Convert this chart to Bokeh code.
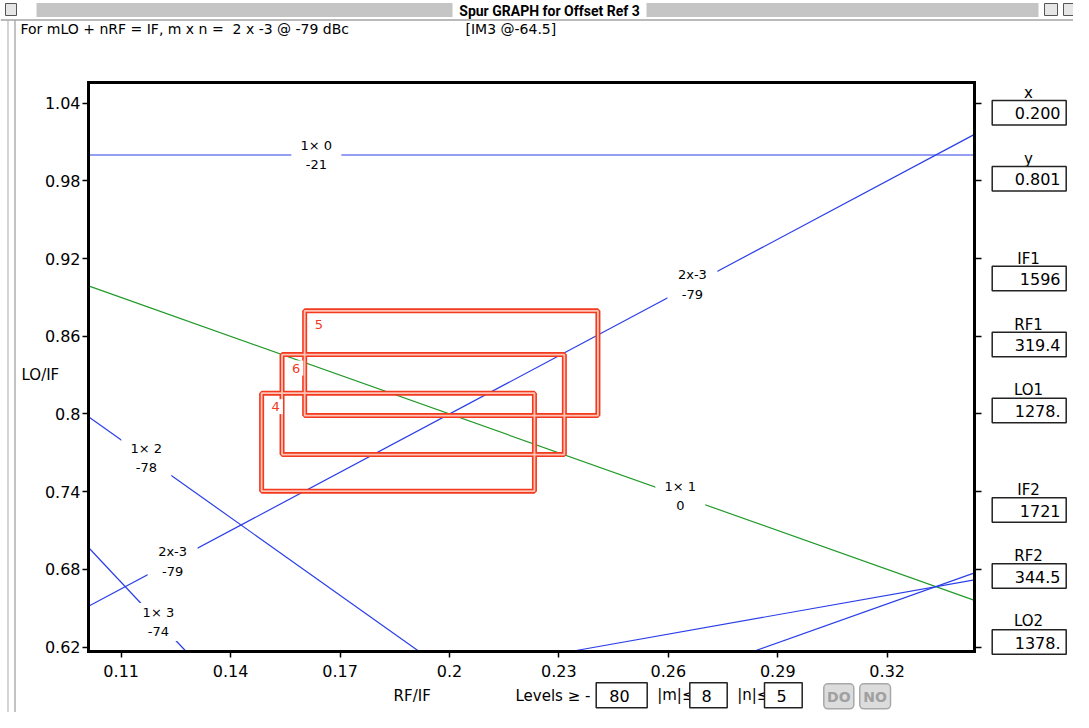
from bokeh.plotting import figure
from bokeh.models import Range1d, FixedTicker, NumeralTickFormatter, LinearAxis
from bokeh.core.properties import value
from bokeh.embed import file_html
from bokeh.resources import INLINE

# ---------------- data ----------------
x_ticks = [0.11, 0.14, 0.17, 0.2, 0.23, 0.26, 0.29, 0.32]
y_ticks = [0.62, 0.68, 0.74, 0.8, 0.86, 0.92, 0.98, 1.04]

# plotted area of the spur graph (RF/IF horizontally, LO/IF vertically)
X_MIN, X_MAX = 0.10104, 0.34394
Y_MIN, Y_MAX = 0.61660, 1.05598

# spur lines (m x n), end points
spur_names = ["1x0", "2x-3", "1x1", "1x2", "1x3", "2x-1", "3x-3"]
spur_x0 = [0.10104, 0.10104, 0.10104, 0.10104, 0.10104, 0.23320, 0.28327]
spur_y0 = [1.00000, 0.65156, 0.89896, 0.79792, 0.69688, 0.61660, 0.61660]
spur_x1 = [0.34394, 0.34394, 0.34394, 0.19170, 0.12780, 0.34394, 0.34394]
spur_y1 = [1.00000, 1.01591, 0.65606, 0.61660, 0.61660, 0.67197, 0.67727]
spur_colors = ["#2b3fe8", "#2b3fe8", "#229a2a", "#2b3fe8", "#2b3fe8", "#2b3fe8", "#2b3fe8"]

# spur labels (order m x n / level in dBc)
label_text = ["1\u00d7 0\n-21", "2x-3\n-79", "1\u00d7 1\n0", "1\u00d7 2\n-78", "2x-3\n-79", "1\u00d7 3\n-74"]
label_x = [0.1635, 0.2666, 0.2633, 0.1169, 0.1241, 0.1202]
label_y = [1.0, 0.90, 0.7367, 0.7662, 0.6862, 0.6394]

# spur-free windows
box_id = ["5", "6", "4"]
box_left = [0.1603, 0.1541, 0.1485]
box_right = [0.2407, 0.2315, 0.2233]
box_bottom = [0.7988, 0.7687, 0.7404]
box_top = [0.8797, 0.8459, 0.8161]

# side panel
panel_names = ["x", "y", "IF1", "RF1", "LO1", "IF2", "RF2", "LO2"]
panel_values = ["0.200", "0.801", "1596", "319.4", "1278.", "1721", "344.5", "1378."]

header_text = "For mLO + nRF = IF, m x n =\u00a0 2 x -3 @ -79 dBc"
header_im3 = "[IM3 @-64.5]"
window_title = "Spur GRAPH for Offset Ref 3"
levels_value = "80"
m_value = "8"
n_value = "5"

# ---------------- figure ----------------
FONT = "DejaVu Sans"
W, H = 1073, 712
PX_PER_X = 3647.6
PX_PER_Y = 1295.0
# whole canvas range, so that the plotted area sits where the window puts it
xr = Range1d(X_MIN - 88 / PX_PER_X, X_MIN + (W - 88) / PX_PER_X)
yr = Range1d(Y_MAX - (H - 82) / PX_PER_Y, Y_MAX + 82 / PX_PER_Y)

p = figure(width=W, height=H, x_range=xr, y_range=yr,
           output_backend="svg", toolbar_location=None,
           min_border=0, min_border_left=0, min_border_right=0, min_border_top=0, min_border_bottom=0,
           background_fill_color="white", border_fill_color="white", outline_line_color=None)
p.grid.visible = False
p.extra_x_ranges = {"px": Range1d(0, W)}
p.extra_y_ranges = {"px": Range1d(H, 0)}

fmt = NumeralTickFormatter(format="0.[00]")
p.xaxis.ticker = FixedTicker(ticks=x_ticks)
p.yaxis.ticker = FixedTicker(ticks=y_ticks)
p.xaxis.formatter = fmt
p.yaxis.formatter = fmt
p.xaxis.fixed_location = Y_MIN
p.xaxis.bounds = (X_MIN, X_MAX)
p.yaxis.fixed_location = X_MIN
p.yaxis.bounds = (Y_MIN, Y_MAX)
for ax in (p.xaxis, p.yaxis):
    ax.axis_line_width = 3
    ax.axis_line_cap = "square"
    ax.major_tick_line_width = 1.5
    ax.major_tick_out = 6
    ax.major_tick_in = 0
    ax.minor_tick_line_color = None
    ax.major_label_text_font = FONT
    ax.major_label_text_font_size = "16px"
    ax.major_label_text_color = "black"
p.xaxis.major_label_standoff = 8
p.yaxis.major_label_standoff = 2

rax = LinearAxis(ticker=FixedTicker(ticks=y_ticks), fixed_location=X_MAX, bounds=(Y_MIN, Y_MAX),
                 axis_line_width=3, axis_line_cap="square", major_tick_line_width=1.5,
                 major_tick_out=7, major_tick_in=0, minor_tick_line_color=None,
                 major_label_text_color=None)
p.add_layout(rax, "right")
tax = LinearAxis(ticker=FixedTicker(ticks=x_ticks), fixed_location=Y_MAX, bounds=(X_MIN, X_MAX),
                 axis_line_width=3, axis_line_cap="square", major_tick_out=0, major_tick_in=0,
                 major_tick_line_color=None, minor_tick_line_color=None,
                 major_label_text_color=None)
p.add_layout(tax, "above")

# spur lines
p.multi_line(xs=[[a, b] for a, b in zip(spur_x0, spur_x1)],
             ys=[[a, b] for a, b in zip(spur_y0, spur_y1)],
             line_color=spur_colors, line_width=1.2)

# label gaps + labels
p.rect(x=label_x, y=label_y, width=50, height=38, width_units="screen", height_units="screen",
       fill_color="white", line_color=None)
p.text(x=label_x, y=label_y, text=label_text, text_align="center", text_baseline="middle",
       text_font=value(FONT), text_font_size="13px", text_line_height=1.3, text_color="black")

# red windows (double line)
p.quad(left=box_left, right=box_right, top=box_top, bottom=box_bottom,
       fill_color=None, line_color="#f23a1e", line_width=5)
p.quad(left=box_left, right=box_right, top=box_top, bottom=box_bottom,
       fill_color=None, line_color="#ffc4b6", line_width=1.8)
p.text(x=box_left, y=box_top, text=box_id, x_offset=7, y_offset=6,
       text_align="left", text_baseline="top", text_font=value(FONT), text_font_size="13px",
       text_color="#f23a1e", background_fill_color="white", padding=3)


# ---------------- window decorations (pixel range) ----------------
def px_text(X, Y, text, size=15, align="left", baseline="middle", color="black",
            font=FONT, style="normal"):
    p.text(x=[X], y=[Y], text=[text], x_range_name="px", y_range_name="px",
           text_align=align, text_baseline=baseline, text_color=color,
           text_font=value(font), text_font_size=f"{size}px", text_font_style=style)


def px_box(X0, Y0, X1, Y1, fill="white", line="black", lw=1.0, radius=0):
    p.quad(left=[X0], right=[X1], top=[Y0], bottom=[Y1], x_range_name="px", y_range_name="px",
           fill_color=fill, line_color=line, line_width=lw, border_radius=radius)


# title bar stripes
stripe_y = [3.5, 5.5, 7.5, 9.5, 11.5, 13.5, 15.5]
sx0, sx1, sy = [], [], []
for yy in stripe_y:
    sx0 += [36, 646]
    sx1 += [452, 1038]
    sy += [yy, yy]
p.segment(x0=sx0, y0=sy, x1=sx1, y1=sy, x_range_name="px", y_range_name="px",
          line_color="#8a8a8a", line_width=1)
px_box(5, 3, 16, 15, fill="#e6e6e6", line="#555555", lw=1)
px_box(1044, 3, 1057, 15, fill="#e6e6e6", line="#555555", lw=1)
px_box(1063, 3, 1076, 15, fill="#e6e6e6", line="#555555", lw=1)
px_text(549, 10, window_title, size=14, align="center", font="Roboto", style="bold")
px_box(0, 19, W, 20, fill="#777777", line=None)

# window frame
px_box(14, 20, 15, H, fill="#888888", line=None)
px_box(7, 20, 8, H, fill="#aaaaaa", line=None)

# header line
px_text(20, 28, header_text, size=14)
px_text(465, 28, header_im3, size=14)

# axis titles
px_text(21, 374, "LO/IF", size=15)
px_text(411.7, 695, "RF/IF", size=15, align="center")

# side panel
panel_label_y = [92.7, 158, 258, 324, 389, 489.3, 555, 620.7]
panel_box_top = [100, 166, 265.7, 331.7, 397.7, 497.3, 563.3, 629.3]
for name, val, ly, bt in zip(panel_names, panel_values, panel_label_y, panel_box_top):
    px_text(1028, ly, name, size=15, align="center")
    px_box(991.7, bt, 1065.7, bt + 24.5, fill="white", line="#222222", lw=1.5)
    px_text(1060, bt + 12.8, val, size=16, align="right")

# bottom controls
px_text(515, 695, "Levels \u2265 -", size=15)
px_box(595.7, 682.3, 646.7, 707.3, fill="white", line="#222222", lw=1.5)
px_text(619, 695.5, levels_value, size=16, align="center")
px_text(656.7, 694, "|m|\u2264", size=15)
px_box(689.3, 682.3, 726.7, 707.3, fill="white", line="#222222", lw=1.5)
px_text(706, 695.5, m_value, size=16, align="center")
px_text(736.7, 694, "|n|\u2264", size=15)
px_box(764, 682.3, 801.7, 707.3, fill="white", line="#222222", lw=1.5)
px_text(781, 695.5, n_value, size=16, align="center")
px_box(823.3, 683.3, 853.3, 708.3, fill="#dcdcdc", line="#a8a8a8", lw=1.5, radius=4)
px_text(838.3, 696, "DO", size=14, align="center", color="#a0a0a0", style="bold")
px_box(859.3, 683.3, 890, 708.3, fill="#dcdcdc", line="#a8a8a8", lw=1.5, radius=4)
px_text(874.6, 696, "NO", size=14, align="center", color="#a0a0a0", style="bold")

open("out.html", "w").write(file_html(p, INLINE))
